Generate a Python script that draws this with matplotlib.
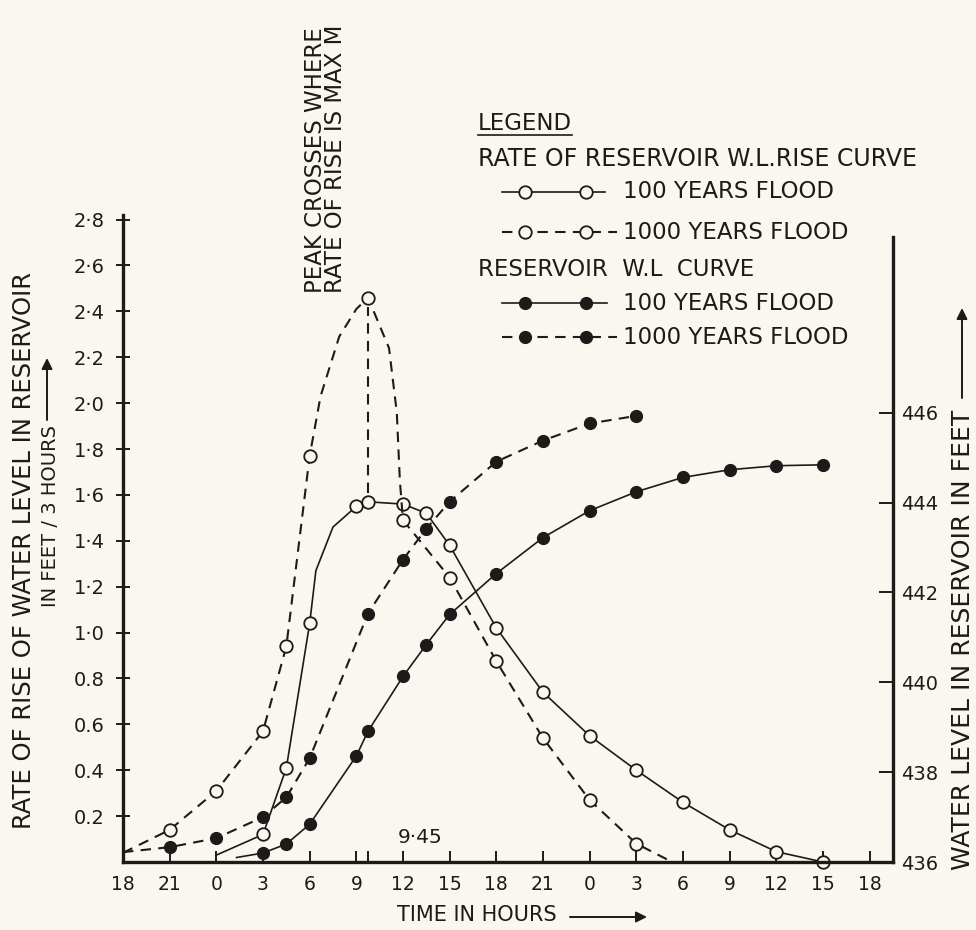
import matplotlib
matplotlib.use('Agg')
import matplotlib.pyplot as plt
from matplotlib.lines import Line2D

W, H = 976, 930
INK = '#1d1b19'
PAPER = '#f9f7ef'

# time in hours, counted from 18 h of the first day
hour_ticks = list(range(0, 49, 3))
hour_labels = ['18', '21', '0', '3', '6', '9', '12', '15',
               '18', '21', '0', '3', '6', '9', '12', '15', '18']
peak_t = 15.75
peak_label = '9·45'

rate_ticks = [0.2, 0.4, 0.6, 0.8, 1.0, 1.2, 1.4, 1.6, 1.8, 2.0, 2.2, 2.4, 2.6, 2.8]
rate_labels = ['0.2', '0.4', '0.6', '0.8', '1·0', '1·2', '1·4', '1·6', '1·8',
               '2·0', '2·2', '2·4', '2·6', '2·8']
level_ticks = [436, 438, 440, 442, 444, 446]

# rate of reservoir W.L. rise, feet / 3 hours
rate100_t = [6, 9, 10.5, 12, 12.4, 13.5, 15, 15.75, 18, 19.5, 21, 24, 27, 30, 33, 36, 39, 42, 45]
rate100_v = [0.03, 0.12, 0.41, 1.04, 1.27, 1.46, 1.55, 1.57, 1.56, 1.52, 1.38, 1.02,
             0.74, 0.55, 0.40, 0.26, 0.14, 0.045, 0.0]
rate100_marks = [1, 2, 3, 6, 7, 8, 9, 10, 11, 12, 13, 14, 15, 16, 17, 18]

rate1000_t = [0, 3, 6, 9, 10.5, 12, 12.7, 13.9, 15.0, 15.75, 17.1, 17.6, 17.8, 18,
              21, 24, 27, 30, 33, 35.3]
rate1000_v = [0.04, 0.14, 0.31, 0.57, 0.94, 1.77, 2.03, 2.29, 2.41, 2.46, 2.24, 1.96, 1.66, 1.49,
              1.24, 0.875, 0.54, 0.27, 0.08, 0.0]
rate1000_marks = [1, 2, 3, 4, 5, 9, 13, 14, 15, 16, 17, 18]

# reservoir water level, feet
wl100_t = [7.3, 9, 10.5, 12, 15, 15.75, 18, 19.5, 21, 24, 27, 30, 33, 36, 39, 42, 45]
wl100_v = [436.1, 436.2, 436.4, 436.84, 438.36, 438.91, 440.13, 440.84, 441.51, 442.42,
           443.22, 443.82, 444.24, 444.56, 444.73, 444.82, 444.84]
wl100_marks = list(range(1, len(wl100_t)))

wl1000_t = [0, 3, 6, 9, 10.5, 12, 15.75, 18, 19.5, 21, 24, 27, 30, 33]
wl1000_v = [436.22, 436.33, 436.53, 437.0, 437.44, 438.31, 441.53, 442.73, 443.42,
            444.02, 444.91, 445.38, 445.76, 445.93]
wl1000_marks = list(range(1, len(wl1000_t)))

DASH = (0, (5, 3.5))
solid_open = dict(linestyle='-', linewidth=1.2, color=INK, marker='o', markersize=9,
                  markerfacecolor=PAPER, markeredgecolor=INK, markeredgewidth=1.3)
dashed_open = dict(solid_open, linestyle=DASH, linewidth=1.5)
solid_filled = dict(linestyle='-', linewidth=1.2, color=INK, marker='o', markersize=8.5,
                    markerfacecolor=INK, markeredgecolor=INK, markeredgewidth=1.0)
dashed_filled = dict(solid_filled, linestyle=DASH, linewidth=1.5)


def fx(x):
    return x / W


def fy(y):
    return 1 - y / H


fig = plt.figure(figsize=(W / 100, H / 100), dpi=100, facecolor=PAPER)
ax = fig.add_axes([fx(123), fy(862), (893 - 123) / W, (862 - 215) / H])
ax.set_facecolor(PAPER)
ax2 = ax.twinx()

ax.set_xlim(0, 49.5)
ax.set_ylim(0, 2.82)
ax2.set_ylim(436, 450.4)

for s in ['top', 'right']:
    ax.spines[s].set_visible(False)
for s in ['top', 'left', 'bottom']:
    ax2.spines[s].set_visible(False)
for sp in [ax.spines['left'], ax.spines['bottom'], ax2.spines['right']]:
    sp.set_linewidth(2.4)
    sp.set_color(INK)
ax2.spines['right'].set_bounds(436, 449.9)

ax.set_xticks(hour_ticks, hour_labels)
ax.set_xticks([peak_t], minor=True)
ax.tick_params(axis='x', which='both', direction='in', length=8, width=1.4,
               pad=9, labelsize=13.5, colors=INK)
ax.set_yticks(rate_ticks, rate_labels)
ax.tick_params(axis='y', direction='inout', length=10, width=1.4, pad=8,
               labelsize=14, colors=INK)
ax2.set_yticks(level_ticks)
ax2.tick_params(axis='y', direction='in', length=10, width=1.4, pad=6,
                labelsize=14, colors=INK)

ax.plot(rate100_t, rate100_v, markevery=rate100_marks, clip_on=False, **solid_open)
ax.plot(rate1000_t, rate1000_v, markevery=rate1000_marks, clip_on=False, **dashed_open)
ax2.plot(wl100_t, wl100_v, markevery=wl100_marks, clip_on=False, **solid_filled)
ax2.plot(wl1000_t, wl1000_v, markevery=wl1000_marks, clip_on=False, **dashed_filled)

# peak of the 1000 years curve dropped onto the 100 years curve
top = max(rate1000_v)
low = rate100_v[rate100_t.index(peak_t)]
ax.vlines(peak_t, low + 0.04, top - 0.04, colors=INK, linestyles=DASH, linewidth=1.5)
fig.text(fx(420), fy(837), peak_label, ha='center', va='center', fontsize=14.5, color=INK)

# annotation near the peak
fig.text(fx(315), fy(293), 'PEAK CROSSES WHERE', rotation=90, ha='center', va='bottom',
         fontsize=16.5, color=INK)
fig.text(fx(336), fy(293), 'RATE OF RISE IS MAX M', rotation=90, ha='center', va='bottom',
         fontsize=16.5, color=INK)

# axis titles
fig.text(fx(24), fy(550), 'RATE OF RISE OF WATER LEVEL IN RESERVOIR', rotation=90,
         ha='center', va='center', fontsize=17.5, color=INK)
fig.text(fx(51), fy(425), 'IN FEET / 3 HOURS', rotation=90, ha='center', va='top',
         fontsize=14, color=INK)
fig.text(fx(963), fy(640), 'WATER LEVEL IN RESERVOIR IN FEET', rotation=90,
         ha='center', va='center', fontsize=18, color=INK)
fig.text(fx(397), fy(915), 'TIME IN HOURS', ha='left', va='center', fontsize=15, color=INK)


def arrow(x0, y0, x1, y1):
    ax.annotate('', xy=(x1, H - y1), xytext=(x0, H - y0), xycoords='figure pixels',
                textcoords='figure pixels',
                arrowprops=dict(arrowstyle='-|>', color=INK, lw=1.4, mutation_scale=16,
                                shrinkA=0, shrinkB=0))


arrow(570, 917, 647, 917)
arrow(47, 420, 47, 358)
arrow(962, 398, 962, 308)

# legend block
fig.text(fx(478), fy(124), 'LEGEND', ha='left', va='center', fontsize=16.5, color=INK)
fig.add_artist(Line2D([fx(478), fx(572)], [fy(135), fy(135)], color=INK, linewidth=1.2))
fig.text(fx(478), fy(159), 'RATE OF RESERVOIR W.L.RISE CURVE', ha='left', va='center',
         fontsize=17, color=INK)
fig.text(fx(478), fy(270), 'RESERVOIR  W.L  CURVE', ha='left', va='center',
         fontsize=16.5, color=INK)

rows = [(192, solid_open, 605, '100 YEARS FLOOD'),
        (232, dashed_open, 617, '1000 YEARS FLOOD'),
        (303, solid_filled, 607, '100 YEARS FLOOD'),
        (337, dashed_filled, 617, '1000 YEARS FLOOD')]
for y, st, x_end, txt in rows:
    xs = [fx(502), fx(525), fx(586), fx(x_end)]
    fig.add_artist(Line2D(xs, [fy(y)] * 4, markevery=[1, 2], **st))
    fig.text(fx(623), fy(y), txt, ha='left', va='center', fontsize=16.5, color=INK)

fig.savefig('out.png', dpi=100, facecolor=PAPER)
